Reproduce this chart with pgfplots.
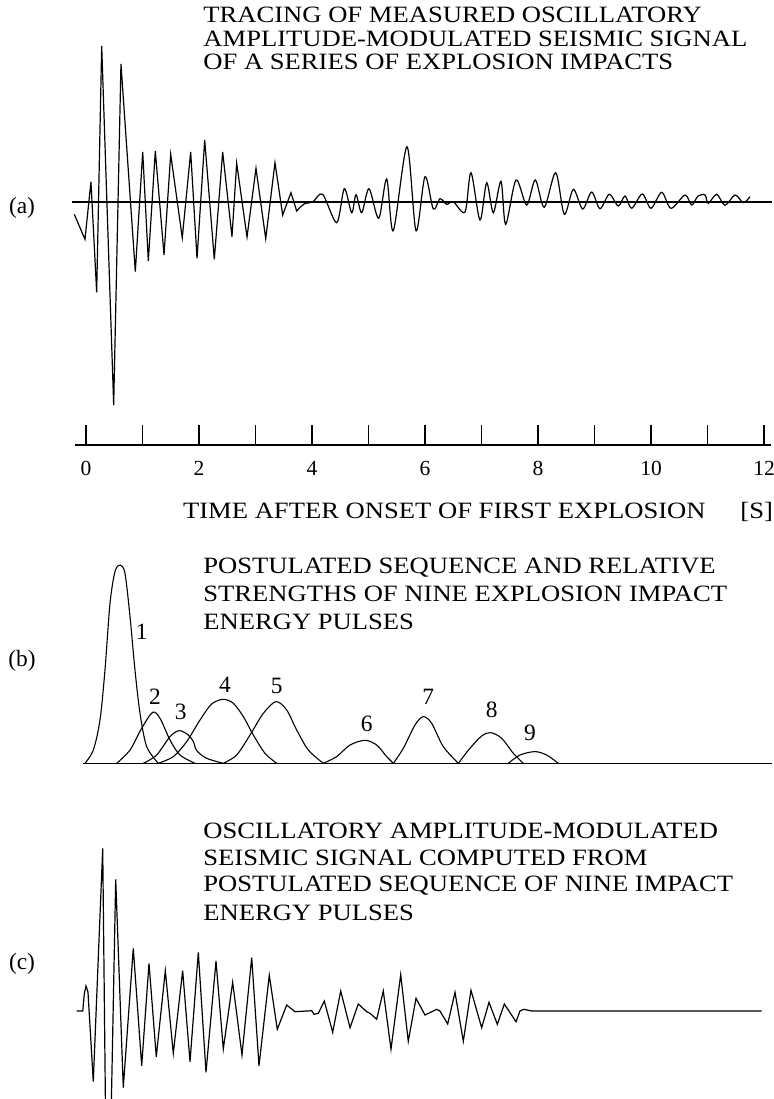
\documentclass[border=0pt]{standalone}
\usepackage{graphicx}
\usepackage{pgfplots}
\pgfplotsset{compat=1.18}
\usepackage{fontspec}
\setmainfont{Liberation Serif}
\newcommand{\T}[1]{\scalebox{1.137}[1]{\fontsize{11.7}{14}\selectfont #1}}
\begin{document}
\begin{tikzpicture}
\path[use as bounding box] (0pt,0pt) rectangle (386.5pt,-549.5pt);

% ---------- panel (a) ----------
\begin{axis}[at={(0pt,-222.5pt)}, anchor=south west, x=28.25pt, y=0.5pt,
  xmin=-1.522, xmax=12.159, ymin=-243, ymax=202, hide axis, clip=false]
\addplot[black, line width=0.75pt] coordinates {(-0.253,0) (12.142,0)};
\addplot[black, line width=0.6pt] coordinates {
(-0.207,-12.3) (-0.018,-37.3) (0.088,20.3) (0.189,-90.3) (0.278,156) (0.490,-203)
(0.619,138) (0.873,-69.7) (1.004,50) (1.103,-59) (1.227,51) (1.381,-53) (1.499,47.7)
(1.704,-35.7) (1.853,50) (1.965,-56.3) (2.101,62) (2.271,-57.3) (2.419,50) (2.584,-34.7)
(2.667,38.7) (2.850,-35) (3.009,33.7) (3.181,-36.7) (3.345,39.3) (3.481,-13) (3.628,9.3)
(3.729,-9) (3.788,-5.3) (3.876,-1.3)};
\addplot[black, line width=0.6pt, smooth] coordinates {
(3.876,-1.3) (4.018,0.3) (4.189,7.7) (4.437,-20.7) (4.572,13.3) (4.703,-10.7) (4.779,7.3)
(4.880,-10.7) (5.009,13.3) (5.181,-16.3) (5.322,23) (5.439,-28.7) (5.681,55.3) (5.841,-28.7)
(6.000,25.3) (6.147,-7) (6.265,3.3) (6.384,-2.3) (6.501,0.3) (6.708,-10) (6.814,29.3)
(6.973,-18) (7.092,19.3) (7.209,-10.7) (7.345,20.7) (7.428,-22.3) (7.611,22) (7.800,-3)
(7.952,22) (8.111,-5.3) (8.313,29.3) (8.465,-12.3) (8.625,12.7) (8.791,-7) (8.950,10)
(9.097,-6.7) (9.262,7.7) (9.421,-4) (9.540,6) (9.658,-6.3) (9.846,8) (10.000,-6.3)
(10.189,9.7) (10.354,-6.3) (10.602,7) (10.720,-3) (10.832,6) (10.956,7) (11.014,-1.3)
(11.163,7.7) (11.310,-3.3) (11.487,7) (11.634,-0.7) (11.752,5.3)};
\end{axis}

% ---------- time axis ----------
\begin{axis}[at={(37.5pt,-222.5pt)}, anchor=south west, x=28.25pt, y=1pt,
  xmin=-0.195, xmax=12.124, ymin=0, ymax=1,
  axis x line=bottom, axis y line=none,
  x axis line style={-, line width=0.75pt},
  xtick={0,...,12}, xticklabels={0,,2,,4,,6,,8,,10,,12},
  major tick length=10pt, tick align=inside,
  tick style={black, line width=0.55pt},
  xticklabel style={anchor=center, inner sep=0pt, yshift=-11.9pt,
    font=\fontsize{10.75}{12}\selectfont},
  /pgf/number format/assume math mode=true, clip=false]
\addplot[draw=none] coordinates {(0,0.5)};
\end{axis}

\node[anchor=base west, inner sep=0pt] at (91.35pt,-259.15pt) {\T{TIME AFTER ONSET OF FIRST EXPLOSION}};
\node[anchor=base west, inner sep=0pt] at (370pt,-259.15pt) {\T{[S]}};

% ---------- panel (b) ----------
\begin{axis}[at={(0pt,-381.65pt)}, anchor=south west, x=28.25pt, y=0.5pt,
  xmin=-1.522, xmax=12.159, ymin=0, ymax=233, hide axis, clip=false]
\addplot[black, line width=0.75pt] coordinates {(-0.058,0) (12.142,0)};
\addplot[black, line width=0.55pt, smooth] coordinates {
(-0.018,0) (0.130,13.3) (0.248,43.3) (0.336,93.3) (0.425,160) (0.513,191.7) (0.602,198.3)
(0.690,190) (0.779,146.7) (0.867,93.3) (0.956,50) (1.074,16.7) (1.280,0)};
\addplot[black, line width=0.55pt, smooth] coordinates {
(0.543,0) (0.779,13.3) (0.985,35) (1.180,51) (1.310,45) (1.487,23.3) (1.664,8.3) (1.929,0)};
\addplot[black, line width=0.55pt, smooth] coordinates {
(1.015,0) (1.251,8.3) (1.487,26.7) (1.652,32.7) (1.811,28.3) (1.900,21.7) (1.959,12.7) (2.136,5) (2.431,0)};
\addplot[black, line width=0.55pt, smooth] coordinates {
(1.280,0) (1.546,6.7) (1.782,21.7) (2.018,43.3) (2.224,59.3) (2.431,64) (2.608,60) (2.785,46.7)
(2.962,28.3) (3.168,10) (3.375,0)};
\addplot[black, line width=0.55pt, smooth] coordinates {
(2.431,0) (2.667,8.3) (2.903,28.3) (3.139,50) (3.363,61.7) (3.552,53.3) (3.729,33.3) (3.935,13.3) (4.201,0)};
\addplot[black, line width=0.55pt, smooth] coordinates {
(4.201,0) (4.437,6.7) (4.673,18.3) (4.938,23) (5.145,18.3) (5.322,6.7) (5.440,0)};
\addplot[black, line width=0.55pt, smooth] coordinates {
(5.440,0) (5.616,15) (5.823,38.3) (5.971,46.7) (6.118,40) (6.324,16.7) (6.590,0)};
\addplot[black, line width=0.55pt, smooth] coordinates {
(6.590,0) (6.796,15) (7.003,27.3) (7.162,30.7) (7.357,25) (7.563,10) (7.740,0)};
\addplot[black, line width=0.55pt, smooth] coordinates {
(7.475,0) (7.681,8.3) (7.947,11.7) (8.153,8.3) (8.360,0)};
\begin{scope}[every node/.style={inner sep=0pt, font=\fontsize{11.7}{14}\selectfont}]
\node at (axis cs:0.986,131.6) {1};
\node at (axis cs:1.221,66.6) {2};
\node at (axis cs:1.676,51.6) {3};
\node at (axis cs:2.46,78.3) {4};
\node at (axis cs:3.375,77.3) {5};
\node at (axis cs:4.968,39.3) {6};
\node at (axis cs:6.058,66.6) {7};
\node at (axis cs:7.18,53.3) {8};
\node at (axis cs:7.858,30) {9};
\end{scope}
\end{axis}

% ---------- panel (c) ----------
\begin{axis}[at={(0pt,-549.5pt)}, anchor=south west, x=28.25pt, y=0.5pt,
  xmin=-1.522, xmax=12.159, ymin=-88, ymax=211, hide axis, clip=true]
\addplot[black, line width=0.6pt] coordinates {
(-0.165,0) (-0.058,0) (-0.030,17) (0,25) (0.035,19) (0.129,-70.7) (0.296,162.7) (0.381,-289)
(0.526,131.7) (0.660,-76.7) (0.837,62.7) (0.986,-54.7) (1.115,47.7) (1.244,-45.7) (1.404,40.3)
(1.545,-42.3) (1.711,40.3) (1.841,-50.7) (1.988,58.7) (2.124,-61.3) (2.301,50) (2.430,-38)
(2.596,28.7) (2.761,-44) (2.933,53.3) (3.062,-54.7) (3.244,35.7) (3.386,-18.3) (3.552,6)
(3.699,-0.7) (3.995,0.3) (4.035,-3.3) (4.112,-2.3) (4.218,10) (4.366,-21.3) (4.508,20)
(4.673,-16.7) (4.819,7) (4.968,-0.7) (5.027,-2.3) (5.145,-8.3) (5.262,20) (5.398,-38.3)
(5.570,36.3) (5.704,-30.3) (5.841,12.7) (6.000,-4) (6.207,1.7) (6.265,0) (6.402,-13)
(6.531,18.7) (6.678,-30.3) (6.814,20.7) (7.003,-16.7) (7.133,8.7) (7.280,-13.3) (7.404,7)
(7.611,-10.7) (7.681,0) (7.752,1.7) (7.888,0) (11.959,0)};
\end{axis}

% ---------- titles ----------
\begin{scope}[every node/.style={anchor=base west, inner sep=0pt}]
\node at (101.5pt,-11.35pt) {\T{TRACING OF MEASURED OSCILLATORY}};
\node at (101.5pt,-23pt) {\T{AMPLITUDE-MODULATED SEISMIC SIGNAL}};
\node at (101.5pt,-34.65pt) {\T{OF A SERIES OF EXPLOSION IMPACTS}};
\node at (101.5pt,-286.65pt) {\T{POSTULATED SEQUENCE AND RELATIVE}};
\node at (101.5pt,-300.5pt) {\T{STRENGTHS OF NINE EXPLOSION IMPACT}};
\node at (101.5pt,-314.5pt) {\T{ENERGY PULSES}};
\node at (101.5pt,-419.15pt) {\T{OSCILLATORY AMPLITUDE-MODULATED}};
\node at (101.5pt,-432.5pt) {\T{SEISMIC SIGNAL COMPUTED FROM}};
\node at (101.5pt,-445.85pt) {\T{POSTULATED SEQUENCE OF NINE IMPACT}};
\node at (101.5pt,-460pt) {\T{ENERGY PULSES}};
\end{scope}
\begin{scope}[every node/.style={inner sep=0pt, font=\fontsize{11.7}{14}\selectfont}]
\node at (11pt,-104pt) {(a)};
\node at (11pt,-330.5pt) {(b)};
\node at (11pt,-482pt) {(c)};
\end{scope}
\end{tikzpicture}
\end{document}
